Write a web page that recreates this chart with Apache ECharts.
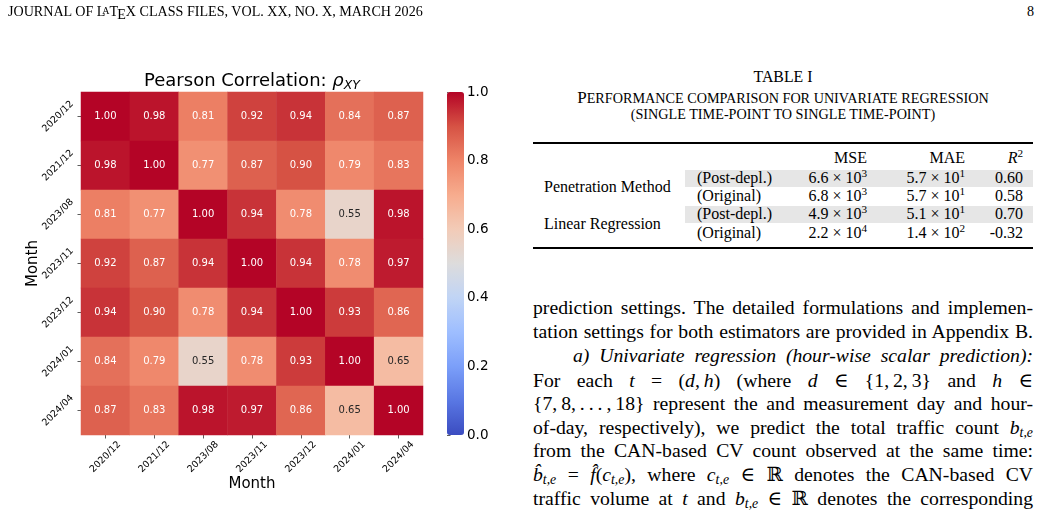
<!DOCTYPE html>
<html>
<head>
<meta charset="utf-8">
<script src="https://cdn.jsdelivr.net/npm/echarts@6.0.0/dist/echarts.min.js"></script>
<style>
  html, body { margin: 0; padding: 0; background: #fff; }
  #page { position: relative; width: 1041px; height: 521px; overflow: hidden; font-family: "Liberation Serif", "DejaVu Serif", serif; color: #000; }
  #chart { position: absolute; left: 0; top: 0; width: 530px; height: 521px; }
  .abs { position: absolute; white-space: nowrap; }
  .cap { position: absolute; left: 533px; width: 500px; text-align: center; font-size: 14.2px; white-space: nowrap; }
  .cap b { font-weight: normal; font-size: 17px; }
  .line { position: absolute; left: 533px; width: 500px; font-size: 19.7px; line-height: 23.8px; text-align: justify; text-align-last: justify; white-space: nowrap; }
  .shade { position: absolute; left: 685px; width: 348px; height: 17px; background: #e6e6e6; }
  .rule { position: absolute; left: 533px; width: 500px; height: 1.6px; background: #000; }
  .cell { position: absolute; font-size: 16px; line-height: 18px; }
  sub { font-size: 70%; vertical-align: -3px; line-height: 0; }
  sup { font-size: 70%; vertical-align: 6px; line-height: 0; }
</style>
</head>
<body>
<div id="page">
  <div id="chart"></div>

  <!-- running header -->
  <div class="abs" style="left:8px; top:3px; font-size:14.1px;">JOURNAL OF L<span style="font-size:10px; vertical-align:2px; margin-left:-3px;">A</span>T<span style="position:relative; top:3px; margin-left:-1px;">E</span>X CLASS FILES, VOL. XX, NO. X, MARCH 2026</div>
  <div class="abs" style="left:1027px; top:3px; font-size:14.1px;">8</div>

  <!-- table caption -->
  <div class="cap" style="top:68px; font-size:15.8px;">TABLE I</div>
  <div class="cap" style="top:88px;"><b>P</b>ERFORMANCE COMPARISON FOR UNIVARIATE REGRESSION</div>
  <div class="cap" style="top:106px;">(SINGLE TIME-POINT TO SINGLE TIME-POINT)</div>

  <div class="rule" style="top:142px;"></div>
  <div class="shade" style="top:170px;"></div>
  <div class="shade" style="top:206px;"></div>
  <div class="rule" style="top:247px;"></div>
  <div id="tbl"></div>

  <!-- body text -->
  <div class="line" style="top:296px;">prediction settings. The detailed formulations and implemen-</div>
  <div class="line" style="top:320px;">tation settings for both estimators are provided in Appendix B.</div>
  <div class="line" style="top:344px; left:573px; width:460px;"><i>a) Univariate regression (hour-wise scalar prediction):</i></div>
  <div class="line" style="top:369px;">For each <i>t</i> = (<i>d</i>,&#8239;<i>h</i>) (where <i>d</i> ∈ {1,&#8239;2,&#8239;3} and <i>h</i> ∈</div>
  <div class="line" style="top:392px;">{7,&#8239;8,&#8239;.&#8239;.&#8239;.&#8239;,&#8239;18} represent the and measurement day and hour-</div>
  <div class="line" style="top:416px;">of-day, respectively), we predict the total traffic count <i>b</i><sub><i>t,e</i></sub></div>
  <div class="line" style="top:439px;">from the CAN-based CV count observed at the same time:</div>
  <div class="line" style="top:463px;"><i>b̂</i><sub><i>t,e</i></sub> = <i>f̂</i>(<i>c</i><sub><i>t,e</i></sub>), where <i>c</i><sub><i>t,e</i></sub> ∈ ℝ denotes the CAN-based CV</div>
  <div class="line" style="top:487px;">traffic volume at <i>t</i> and <i>b</i><sub><i>t,e</i></sub> ∈ ℝ denotes the corresponding</div>
</div>

<script>
// ---- heatmap data ----
const months = ['2020/12', '2021/12', '2023/08', '2023/11', '2023/12', '2024/01', '2024/04'];

const row2020_12 = [1.00, 0.98, 0.81, 0.92, 0.94, 0.84, 0.87];
const row2021_12 = [0.98, 1.00, 0.77, 0.87, 0.90, 0.79, 0.83];
const row2023_08 = [0.81, 0.77, 1.00, 0.94, 0.78, 0.55, 0.98];
const row2023_11 = [0.92, 0.87, 0.94, 1.00, 0.94, 0.78, 0.97];
const row2023_12 = [0.94, 0.90, 0.78, 0.94, 1.00, 0.93, 0.86];
const row2024_01 = [0.84, 0.79, 0.55, 0.78, 0.93, 1.00, 0.65];
const row2024_04 = [0.87, 0.83, 0.98, 0.97, 0.86, 0.65, 1.00];

const colorbarTicks = [0.0, 0.2, 0.4, 0.6, 0.8, 1.0];

// ---- table data ----
const tableMethods = ['Penetration Method', 'Linear Regression'];
const tableVariants = ['(Post-depl.)', '(Original)', '(Post-depl.)', '(Original)'];
const tableMSE = ['6.6 × 10<sup>3</sup>', '6.8 × 10<sup>3</sup>', '4.9 × 10<sup>3</sup>', '2.2 × 10<sup>4</sup>'];
const tableMAE = ['5.7 × 10<sup>1</sup>', '5.7 × 10<sup>1</sup>', '5.1 × 10<sup>1</sup>', '1.4 × 10<sup>2</sup>'];
const tableR2 = ['0.60', '0.58', '0.70', '-0.32'];

// matplotlib "coolwarm", sampled at 0, 0.1, ..., 1
const coolwarm = ['#3b4cc0', '#5977e3', '#7b9ff9', '#9ebeff', '#c0d4f5', '#dddcdc',
                  '#f2cbb7', '#f7ac8e', '#ee8468', '#d65244', '#b40426'];

// build the table
const tbl = document.getElementById('tbl');
const addCell = (html, css) => {
    const d = document.createElement('div');
    d.className = 'cell';
    d.innerHTML = html;
    Object.assign(d.style, css);
    tbl.appendChild(d);
};
addCell('MSE', { left: '767px', width: '100px', textAlign: 'right', top: '149px' });
addCell('MAE', { left: '865px', width: '100px', textAlign: 'right', top: '149px' });
addCell('<i>R</i><sup>2</sup>', { left: '943px', width: '80px', textAlign: 'right', top: '149px' });
tableMethods.forEach((m, i) => {
    addCell(m, { left: '544px', top: (178 + i * 37) + 'px' });
});
const rowTops = [169, 187, 205, 224];
tableVariants.forEach((v, i) => {
    const top = rowTops[i] + 'px';
    addCell(v, { left: '697px', top });
    addCell(tableMSE[i], { left: '747px', width: '120px', textAlign: 'right', top });
    addCell(tableMAE[i], { left: '845px', width: '120px', textAlign: 'right', top });
    addCell(tableR2[i], { left: '943px', width: '80px', textAlign: 'right', top });
});

// ---- chart ----
const rows = [row2020_12, row2021_12, row2023_08, row2023_11, row2023_12, row2024_01, row2024_04];
const heatData = [];
rows.forEach((row, y) => {
    row.forEach((v, x) => {
        heatData.push({
            value: [x, y, v],
            label: { color: v < 0.7 ? '#262626' : '#ffffff' }
        });
    });
});

const chart = echarts.init(document.getElementById('chart'));
const font = 'DejaVu Sans';

const option = {
    animation: false,
    textStyle: { fontFamily: font },
    graphic: [{
        type: 'text',
        x: 252,
        y: 81,
        style: {
            text: '{a|Pearson Correlation: }{r|ρ}{s|XY}',
            align: 'center',
            verticalAlign: 'middle',
            rich: {
                a: { fontFamily: font, fontSize: 18, fill: '#000' },
                r: { fontFamily: font, fontSize: 18, fontStyle: 'italic', fill: '#000' },
                s: { fontFamily: font, fontSize: 12.5, fontStyle: 'italic', fill: '#000', padding: [10, 0, 0, 0] }
            }
        }
    }],
    grid: [
        { left: 81, top: 92, width: 342, height: 343 },
        { left: 447, top: 92, width: 17, height: 343 }
    ],
    xAxis: [{
        type: 'category',
        data: months,
        gridIndex: 0,
        name: 'Month',
        nameLocation: 'middle',
        nameGap: 42,
        nameMoveOverlap: false,
        nameTextStyle: { fontSize: 15, color: '#000' },
        axisLine: { show: false },
        axisTick: { show: true, alignWithLabel: true, length: 3.5, lineStyle: { color: '#333', width: 0.8 } },
        axisLabel: { rotate: 45, fontSize: 9.5, color: '#000', align: 'center', verticalAlign: 'middle', margin: 22 },
        splitLine: { show: false }
    }, {
        type: 'value',
        gridIndex: 1,
        show: false
    }],
    yAxis: [{
        type: 'category',
        data: months,
        inverse: true,
        gridIndex: 0,
        name: 'Month',
        nameLocation: 'middle',
        nameGap: 40,
        nameMoveOverlap: false,
        nameTextStyle: { fontSize: 15, color: '#000' },
        axisLine: { show: false },
        axisTick: { show: true, alignWithLabel: true, length: 3.5, lineStyle: { color: '#333', width: 0.8 } },
        axisLabel: { rotate: 45, fontSize: 9.5, color: '#000', align: 'center', verticalAlign: 'middle', margin: 23 },
        splitLine: { show: false }
    }, {
        type: 'value',
        gridIndex: 1,
        position: 'right',
        min: colorbarTicks[0],
        max: colorbarTicks[colorbarTicks.length - 1],
        interval: colorbarTicks[1] - colorbarTicks[0],
        axisLine: { show: false },
        axisTick: { show: true, length: 3.5, lineStyle: { color: '#333', width: 0.8 } },
        axisLabel: { fontSize: 13.5, color: '#000', margin: 3, formatter: (v) => v.toFixed(1) },
        splitLine: { show: false }
    }],
    visualMap: {
        type: 'continuous',
        min: 0,
        max: 1,
        seriesIndex: 0,
        orient: 'vertical',
        left: 447,
        top: 92,
        padding: 0,
        itemWidth: 17,
        itemHeight: 343,
        calculable: false,
        text: null,
        inRange: { color: coolwarm }
    },
    series: [{
        type: 'heatmap',
        xAxisIndex: 0,
        yAxisIndex: 0,
        data: heatData,
        label: {
            show: true,
            fontSize: 10,
            fontFamily: font,
            formatter: (p) => p.value[2].toFixed(2)
        },
        itemStyle: { borderWidth: 0 },
        emphasis: { disabled: true }
    }]
};

chart.setOption(option);
</script>
</body>
</html>
